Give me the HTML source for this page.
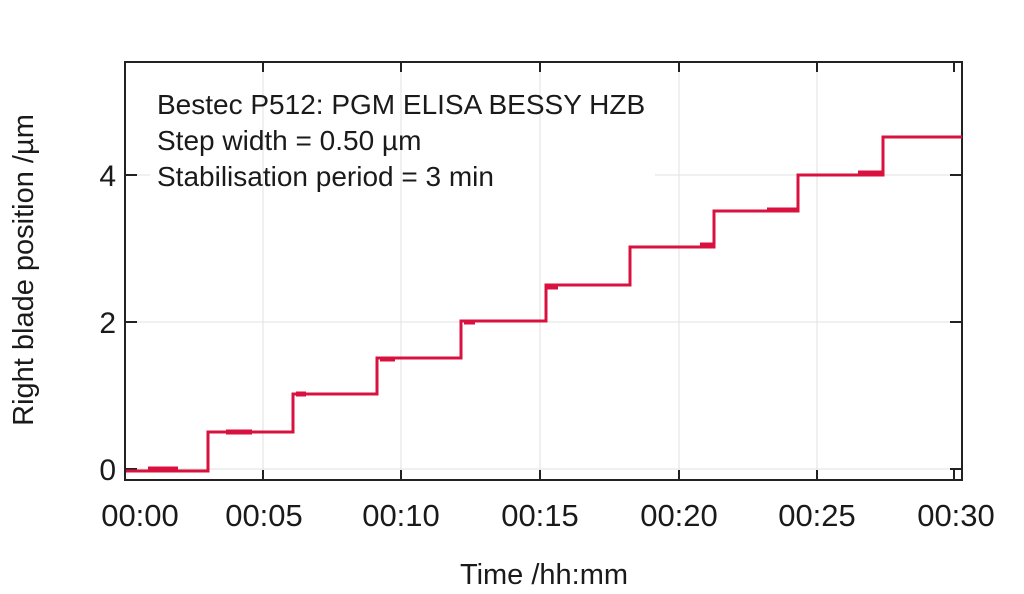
<!DOCTYPE html>
<html><head><meta charset="utf-8"><style>
body{margin:0;background:#fff;}
svg{display:block;font-family:"Liberation Sans",sans-serif;}
</style></head><body>
<svg width="1024" height="594" viewBox="0 0 1024 594">
<rect width="1024" height="594" fill="#fff"/>
<g stroke="#e2e2e2" stroke-width="1">
<line x1="263" y1="62" x2="263" y2="480"/><line x1="401" y1="62" x2="401" y2="480"/>
<line x1="540" y1="62" x2="540" y2="480"/><line x1="679" y1="62" x2="679" y2="480"/>
<line x1="817" y1="62" x2="817" y2="480"/>
<line x1="125" y1="469" x2="962" y2="469"/><line x1="125" y1="322" x2="962" y2="322"/>
<line x1="655" y1="175" x2="962" y2="175"/><line x1="125" y1="175" x2="150" y2="175"/>
</g>
<rect x="125" y="62" width="837" height="418" fill="none" stroke="#222" stroke-width="2"/>
<g stroke="#222" stroke-width="2">
<line x1="263" y1="62" x2="263" y2="72"/><line x1="401" y1="62" x2="401" y2="72"/><line x1="540" y1="62" x2="540" y2="72"/><line x1="679" y1="62" x2="679" y2="72"/><line x1="817" y1="62" x2="817" y2="72"/><line x1="954" y1="62" x2="954" y2="72"/>
<line x1="263" y1="480" x2="263" y2="470"/><line x1="401" y1="480" x2="401" y2="470"/><line x1="540" y1="480" x2="540" y2="470"/><line x1="679" y1="480" x2="679" y2="470"/><line x1="817" y1="480" x2="817" y2="470"/><line x1="954" y1="480" x2="954" y2="470"/>
<line x1="125" y1="469" x2="137" y2="469"/><line x1="125" y1="322" x2="137" y2="322"/><line x1="125" y1="175" x2="137" y2="175"/>
<line x1="962" y1="469" x2="950" y2="469"/><line x1="962" y1="322" x2="950" y2="322"/><line x1="962" y1="175" x2="950" y2="175"/>
</g>
<polyline fill="none" stroke="#d8113f" stroke-width="3" points="126,471 208,471 208,432 293,432 293,394 377,394 377,358 461,358 461,321 546,321 546,285 630,285 630,247 714,247 714,211 798,211 798,175 883,175 883,137 962,137"/>
<g stroke="#d8113f" stroke-width="5">
<line x1="148" y1="469" x2="178" y2="469"/><line x1="226" y1="432" x2="252" y2="432"/><line x1="296" y1="394" x2="306" y2="394"/><line x1="380" y1="359" x2="395" y2="359"/><line x1="464" y1="322" x2="475" y2="322"/><line x1="858" y1="173" x2="882" y2="173"/><line x1="767" y1="210" x2="797" y2="210"/><line x1="700" y1="245" x2="713" y2="245"/><line x1="547" y1="287" x2="558" y2="287"/>
</g>
<g font-size="28" fill="#1a1a1a">
<text x="157" y="114">Bestec P512: PGM ELISA BESSY HZB</text>
<text x="157" y="150">Step width = 0.50 µm</text>
<text x="157" y="186">Stabilisation period = 3 min</text>
</g>
<g font-size="30" fill="#1a1a1a" text-anchor="end">
<text x="116" y="480">0</text><text x="116" y="333">2</text><text x="116" y="186">4</text>
</g>
<g font-size="31" fill="#1a1a1a" text-anchor="middle">
<text x="140" y="526">00:00</text><text x="264" y="526">00:05</text><text x="401" y="526">00:10</text><text x="540" y="526">00:15</text><text x="679" y="526">00:20</text><text x="817" y="526">00:25</text><text x="956" y="526">00:30</text>
</g>
<g font-size="29" fill="#1a1a1a" text-anchor="middle">
<text x="544" y="584">Time /hh:mm</text>
<text transform="translate(33,270) rotate(-90)">Right blade position /µm</text>
</g>
</svg>
</body></html>
